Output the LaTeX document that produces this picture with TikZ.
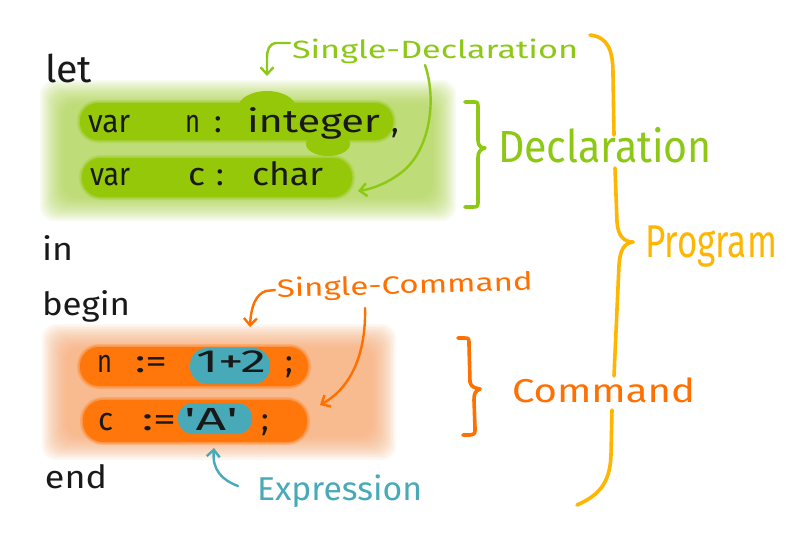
\documentclass[tikz,border=0pt]{standalone}
\usepackage{fontspec}
\setmainfont{Fira Sans}
\usetikzlibrary{arrows.meta}
\definecolor{grn}{RGB}{140,200,20}
\definecolor{grnlight}{RGB}{170,212,70}
\definecolor{grndark}{RGB}{148,200,8}
\definecolor{gold}{RGB}{255,182,0}
\definecolor{org}{RGB}{255,112,0}
\definecolor{orgdark}{RGB}{255,118,10}
\definecolor{orglight}{RGB}{248,165,105}
\definecolor{tealc}{RGB}{72,170,185}
\definecolor{ink}{RGB}{25,25,25}
\newcommand{\hw}[2]{\resizebox{#1pt}{\height}{#2}}
\newcommand{\fsz}[1]{\fontsize{#1}{#1}\selectfont}
\tikzset{
  txt/.style={anchor=base west, inner sep=0pt, outer sep=0pt},
  code/.style={txt, text=ink, font=\fsz{32}},
  kw/.style={txt, text=ink, font=\fsz{32}},
  brace/.style={line width=3.6pt, line cap=round, line join=round},
  harrow/.style={line width=2.4pt, line cap=round, line join=round,
     -{Straight Barb[length=7pt,width=13pt,line width=2.4pt]}},
}
\begin{document}
\begin{tikzpicture}[x=1pt,y=-1pt]
\useasboundingbox (0,0) rectangle (800,550);
\fill[white] (0,0) rectangle (800,550);

% ---------- green declaration blob ----------
\foreach \i in {0,...,15}
  \fill[grnlight, opacity=0.075, rounded corners=14pt]
     ({40+\i*1.6},{80+\i*1.6}) rectangle ({456-\i*1.6},{221-\i*1.6});
\foreach \r/\o in {3/0.25,1.5/0.4}{
  \fill[grndark, opacity=\o, rounded corners={18pt+\r pt}] ({80-\r},{103-\r}) rectangle ({393+\r},{140+\r});
  \fill[grndark, opacity=\o, rounded corners={19pt+\r pt}] ({82-\r},{158-\r}) rectangle ({352+\r},{197+\r});
}
\fill[grndark, rounded corners=18pt] (80,103) rectangle (393,140);
\fill[grndark] (267,108) ellipse (29 and 17);
\fill[grndark] (328,144) ellipse (22 and 12);
\fill[grndark, rounded corners=19pt] (82,158) rectangle (352,197);

% ---------- orange command blob ----------
\foreach \i in {0,...,15}
  \fill[orglight, opacity=0.075, rounded corners=14pt]
     ({42+\i*1.6},{324+\i*1.6}) rectangle ({396-\i*1.6},{460-\i*1.6});
\foreach \r/\o in {3/0.25,1.5/0.4}{
  \fill[orgdark, opacity=\o, rounded corners={19pt+\r pt}] ({80-\r},{347-\r}) rectangle ({308+\r},{386+\r});
  \fill[orgdark, opacity=\o, rounded corners={20pt+\r pt}] ({83-\r},{400-\r}) rectangle ({307+\r},{442+\r});
}
\fill[orgdark, rounded corners=19pt] (80,347) rectangle (308,386);
\fill[orgdark, rounded corners=20pt] (83,400) rectangle (307,442);
\fill[tealc, rounded corners=17pt] (190,348) rectangle (270,384);
\fill[tealc, rounded corners=15pt] (178,403) rectangle (252,434);

% ---------- keywords ----------
\node[kw, font=\fsz{38}] (let) at (45,82) {\hw{47}{let}};
\node[kw] (in) at (42,260) {\hw{31}{in}};
\node[kw] (begin) at (42,315) {\hw{88}{begin}};
\node[kw] (end) at (45,488) {\hw{62}{end}};

% ---------- declarations ----------
\node[code] (var1) at (88,132) {\hw{42}{var}};
\node[code] (n1) at (185,132) {\hw{15}{n}};
\node[code] (col1) at (214,132) {:};
\node[code] (int) at (247,132) {\hw{133}{integer}};
\node[code] (comma) at (391,132) {,};
\node[code] (var2) at (90,185) {\hw{40}{var}};
\node[code] (c1) at (188,185) {\hw{17}{c}};
\node[code] (col2) at (216,185) {:};
\node[code] (char) at (252,185) {\hw{71}{char}};

% ---------- commands ----------
\node[code] (n2) at (97,372) {\hw{15}{n}};
\node[code] (as1) at (135,372) {\hw{32}{:=}};
\node[code] (e1) at (196,372) {\hw{70}{1+2}};
\node[code] (sc1) at (285,372) {;};
\node[code] (c2) at (98,430) {\hw{15}{c}};
\node[code] (as2) at (142,430) {\hw{34}{:=}};
\node[code] (e2) at (184,430) {\hw{54}{\textquotesingle A\textquotesingle}};
\node[code] (sc2) at (261,430) {;};

% ---------- labels ----------
\node[txt, text=grn, font=\fsz{25}] (sdecl) at (292,58) {\hw{286}{Single-Declaration}};
\node[txt, text=grn, font=\fsz{45}] (decl) at (498,162) {\hw{214}{Declaration}};
\node[txt, text=gold, font=\fsz{46}] (prog) at (645,257) {\hw{132}{Program}};
\node[txt, text=org, font=\fsz{25}, rotate=1.5] (scmd) at (277,297) {\hw{256}{Single-Command}};
\node[txt, text=org, font=\fsz{33}] (cmd) at (512,402) {\hw{183}{Command}};
\node[txt, text=tealc, font=\fsz{33}] (expr) at (257,500) {\hw{165}{Expression}};

% ---------- braces ----------
\draw[brace, grn] (465,102) -- (474,102) .. controls (478,102) .. (478,110)
   -- (478,140) .. controls (478,146) and (481,148) .. (485,148)
   .. controls (481,149) and (478,151) .. (478,158)
   -- (478,200) .. controls (478,207) .. (472,207) -- (465,207);
\draw[brace, org] (458,338) -- (464,338) .. controls (469,338) .. (469,345)
   -- (470,382) .. controls (471,387) and (475,388) .. (480,389)
   .. controls (475,391) and (474,394) .. (474,400)
   -- (475,428) .. controls (475,434) .. (470,435) -- (463,435);
\draw[brace, gold] (590,35) .. controls (608,37) and (613,50) .. (613,75) -- (614,135);
\draw[brace, gold] (615,168) -- (617,222) .. controls (618,236) and (624,242) .. (633,242);
\draw[brace, gold] (633,242) .. controls (624,243) and (620,250) .. (619,265) -- (614,376);
\draw[brace, gold] (612,410) -- (611,455) .. controls (610,485) and (597,496) .. (577,505);

% ---------- arrows ----------
\coordinate (sdA) at (290,43);
\coordinate (sdTip1) at (267,76);
\coordinate (sdB) at (425,65);
\coordinate (sdTip2) at (358,191);
\draw[harrow, grn] (sdA) -- (276,43) .. controls (269,44) and (267,50) .. (267,58) -- (sdTip1);
\draw[harrow, grn] (sdB) .. controls (437,100) and (430,150) .. (402,172)
   .. controls (388,183) and (372,189) .. (sdTip2);

\coordinate (scA) at (275,290);
\coordinate (scTip1) at (250,327);
\coordinate (scB) at (365,308);
\coordinate (scTip2) at (320,405);
\draw[harrow, org] (scA) -- (266,291) .. controls (256,294) and (251,306) .. (scTip1);
\draw[harrow, org] (scB) .. controls (366,345) and (356,385) .. (scTip2);

\coordinate (exA) at (238,486);
\coordinate (exTip) at (214,448);
\draw[harrow, tealc] (exA) .. controls (222,480) and (212,470) .. (exTip);
\end{tikzpicture}
\end{document}
